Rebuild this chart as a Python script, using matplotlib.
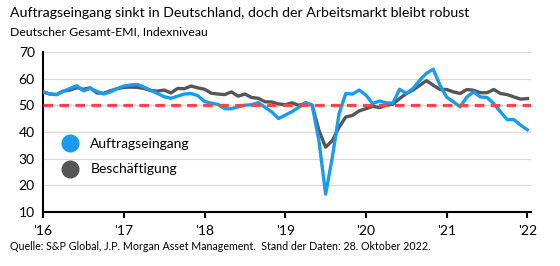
import matplotlib.pyplot as plt
from matplotlib.lines import Line2D

plt.rcParams['font.family'] = ['Lato', 'DejaVu Sans']

# monthly values, 73 points, labelled with year ticks every 12 months
auftragseingang = [
    55.0, 54.2, 54.0, 55.2, 56.3, 57.3, 55.4, 56.3, 55.2, 54.2,
    55.0, 56.2, 57.2, 57.6, 57.8, 56.8, 55.6, 54.4, 53.2, 52.6,
    53.4, 54.2, 54.4, 53.6, 51.4, 50.8, 50.3, 48.7, 48.7, 49.4,
    50.0, 50.2, 51.0, 49.2, 47.5, 45.0, 46.3, 47.6, 49.2, 51.0,
    50.0, 36.8, 16.7, 30.5, 46.9, 54.4, 54.2, 55.7, 53.8, 50.6,
    51.6, 50.9, 50.8, 56.0, 54.4, 56.3, 59.4, 62.0, 63.5, 57.5,
    53.0, 51.3, 49.4, 53.1, 55.0, 53.1, 52.9, 50.6, 47.5, 44.6,
    44.6, 42.5, 40.8,
]
beschaeftigung = [
    55.0, 54.2, 54.0, 55.3, 55.7, 56.6, 56.0, 56.5, 54.6, 54.5,
    55.4, 56.2, 56.7, 56.8, 56.7, 56.3, 55.5, 55.3, 55.7, 54.6,
    56.3, 56.2, 57.2, 56.5, 56.0, 54.5, 54.2, 54.0, 55.0, 53.4,
    54.2, 52.9, 52.6, 51.3, 51.2, 50.5, 50.2, 50.9, 50.0, 50.6,
    50.0, 40.6, 34.3, 36.8, 41.8, 45.6, 46.2, 47.9, 48.7, 49.6,
    49.1, 50.0, 50.4, 52.5, 54.4, 55.7, 57.5, 59.2, 57.5, 55.9,
    55.9, 55.0, 54.4, 55.9, 55.6, 54.7, 54.7, 55.9, 54.4, 54.0,
    53.1, 52.3, 52.5,
]
tick_labels = ["'16", "'17", "'18", "'19", "'20", "'21", "'22"]
schwelle = 50

blue = '#1A9BF0'
grey = '#565656'

fig = plt.figure(figsize=(5.6, 2.66), dpi=100)
ax = fig.add_axes([0.077, 0.203, 0.872, 0.602])

months = range(len(auftragseingang))
ax.plot(months, beschaeftigung, color=grey, lw=2.4, zorder=3)
ax.plot(months, auftragseingang, color=blue, lw=2.4, zorder=4)
ax.axhline(schwelle, color='#F04848', lw=2.3, ls=(0, (3, 2)), zorder=5)

ax.set_xlim(0, 72.6)
ax.set_ylim(10, 70)
ax.set_yticks(range(10, 71, 10))
ax.set_xticks(range(0, 73, 12))
ax.set_xticklabels(tick_labels)
ax.grid(axis='y', color='#d9d9d9', lw=0.9)
ax.set_axisbelow(True)
for s in ['top', 'right']:
    ax.spines[s].set_visible(False)
ax.spines['left'].set_linewidth(1.5)
ax.spines['bottom'].set_linewidth(1.5)
ax.tick_params(axis='y', length=0, labelsize=10, pad=6)
ax.tick_params(axis='x', length=4, width=1.5, direction='out', labelsize=10, pad=5)

handles = [
    Line2D([], [], marker='o', ls='none', color=blue, markersize=12),
    Line2D([], [], marker='o', ls='none', color=grey, markersize=12),
]
ax.legend(handles, ['Auftragseingang', 'Beschäftigung'], loc='lower left',
          bbox_to_anchor=(0.0, 0.15), frameon=False, fontsize=10,
          handletextpad=0.5, labelspacing=1.0)

fig.text(0.018, 0.95, 'Auftragseingang sinkt in Deutschland, doch der Arbeitsmarkt bleibt robust',
         fontsize=10.2, va='center')
fig.text(0.018, 0.88, 'Deutscher Gesamt-EMI, Indexniveau', fontsize=8.8, va='center')
fig.text(0.018, 0.075, 'Quelle: S&P Global, J.P. Morgan Asset Management.  Stand der Daten: 28. Oktober 2022.',
         fontsize=7.7, va='center')

fig.savefig('out.png', dpi=100)
